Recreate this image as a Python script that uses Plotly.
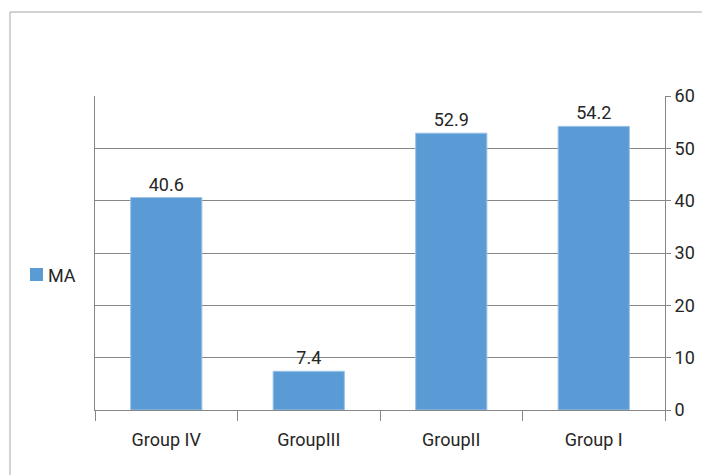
import plotly.graph_objects as go

categories = ["Group IV", "GroupIII", "GroupII", "Group I"]
values = [40.6, 7.4, 52.9, 54.2]
series_name = "MA"

FONT = "Roboto, Liberation Sans, sans-serif"
BLUE = "#5B9BD5"
GRID = "#868686"
TXT = "#262626"

fig = go.Figure()
fig.add_trace(go.Bar(
    x=categories, y=values, name=series_name,
    marker=dict(color=BLUE, line=dict(color="#9DC3E6", width=1)),
    width=0.5,
    text=[f"{v:.1f}" for v in values], textposition="outside",
    textfont=dict(family=FONT, size=18, color=TXT),
    cliponaxis=False,
    showlegend=False,
))

W, H = 702, 475
L, R, T, B = 95, 37, 96, 65
pw, ph = W - L - R, H - T - B

def px(x):
    return (x - L) / pw

def py(y):
    return (H - B - y) / ph

fig.update_layout(
    width=W, height=H,
    margin=dict(l=L, r=R, t=T, b=B, pad=0, autoexpand=False),
    paper_bgcolor="white", plot_bgcolor="white",
    font=dict(family=FONT, size=18, color=TXT),
    showlegend=False,
    xaxis=dict(
        type="category", tickson="boundaries",
        showgrid=False, showline=True, linecolor=GRID, linewidth=1,
        ticks="outside", ticklen=10, tickcolor=GRID, tickwidth=1,
        tickfont=dict(family=FONT, size=18, color=TXT),
        ticklabelstandoff=13,
        zeroline=False,
    ),
    yaxis=dict(
        side="right", range=[0, 60], dtick=10, tick0=0,
        showgrid=True, gridcolor=GRID, gridwidth=1,
        showline=True, linecolor=GRID, linewidth=1, mirror=True,
        ticks="outside", ticklen=5, tickcolor=GRID, tickwidth=1,
        tickfont=dict(family=FONT, size=18, color=TXT),
        zeroline=False,
    ),
    bargap=0.5,
    shapes=[
        dict(type="line", xref="paper", yref="paper",
             x0=px(10), x1=px(720), y0=py(12), y1=py(12),
             line=dict(color="#A6A6A6", width=1)),
        dict(type="line", xref="paper", yref="paper",
             x0=px(10), x1=px(10), y0=py(12), y1=py(480),
             line=dict(color="#A6A6A6", width=1)),
        # legend key
        dict(type="rect", xref="paper", yref="paper",
             x0=px(30), x1=px(43), y0=py(281), y1=py(268),
             fillcolor=BLUE, line=dict(width=0)),
    ],
    annotations=[
        dict(text=series_name, xref="paper", yref="paper",
             x=px(46), y=py(275), xanchor="left", yanchor="middle",
             showarrow=False, font=dict(family=FONT, size=18, color=TXT)),
    ],
)

fig.write_html("out.html")
